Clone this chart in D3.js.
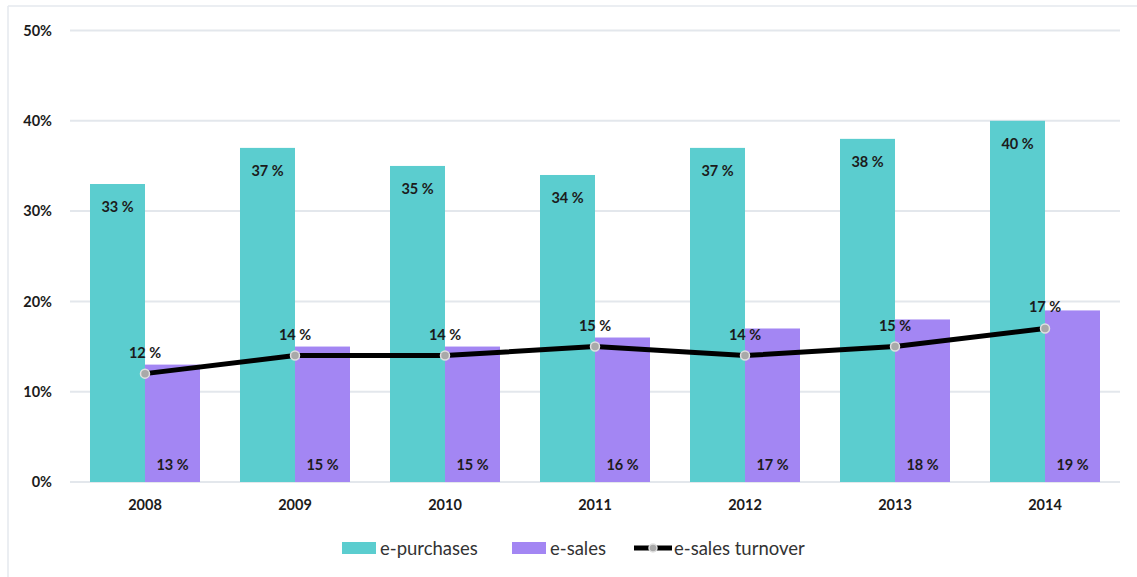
<!DOCTYPE html>
<html>
<head>
<meta charset="utf-8">
<script src="https://cdn.jsdelivr.net/npm/d3@7"></script>
<style>
  html, body { margin: 0; padding: 0; background: #fff; }
  svg { display: block; font-family: Lato, "Open Sans", sans-serif; }
</style>
</head>
<body>
<svg id="chart" width="1137" height="577"></svg>
<script>
const years = ["2008", "2009", "2010", "2011", "2012", "2013", "2014"];
const ePurchases = [33, 37, 35, 34, 37, 38, 40];
const eSales = [13, 15, 15, 16, 17, 18, 19];
const eSalesTurnover = [12, 14, 14, 15, 14, 15, 17];
const yTicks = [0, 10, 20, 30, 40, 50];
const legendLabels = ["e-purchases", "e-sales", "e-sales turnover"];

const W = 1137, H = 577;
const margin = { left: 70, right: 17, top: 30.5, bottom: 95 };
const colTeal = "#5bcdcf", colPurple = "#a386f3", textCol = "#1b1b1b";

const svg = d3.select("#chart");

// outer frame (left + top)
svg.append("line").attr("x1", 8).attr("x2", 8).attr("y1", 6).attr("y2", H).attr("stroke", "#e4e8ee").attr("stroke-width", 1.5);
svg.append("line").attr("x1", 8).attr("x2", W).attr("y1", 6).attr("y2", 6).attr("stroke", "#e4e8ee").attr("stroke-width", 1.5);

const x = d3.scaleBand().domain(years).range([margin.left, W - margin.right]).paddingInner(0.2667).paddingOuter(0.1333);
const y = d3.scaleLinear().domain([0, 50]).range([H - margin.bottom, margin.top]);
const half = x.bandwidth() / 2;

// gridlines
svg.append("g").selectAll("line").data(yTicks).join("line")
  .attr("x1", margin.left).attr("x2", W - margin.right)
  .attr("y1", d => y(d)).attr("y2", d => y(d))
  .attr("stroke", "#e3e7ec").attr("stroke-width", 2);

// y axis labels
const yAxis = d3.axisLeft(y).tickValues(yTicks).tickFormat(d => d + "%").tickSize(0).tickPadding(18);
const yg = svg.append("g").attr("transform", `translate(${margin.left},0)`).call(yAxis);
yg.select(".domain").remove();
yg.selectAll("text").attr("font-size", 14.5).attr("font-weight", "bold").attr("fill", textCol)
  .attr("font-family", "Lato, 'Open Sans', sans-serif");

// x axis labels
const xAxis = d3.axisBottom(x).tickSize(0).tickPadding(18);
const xg = svg.append("g").attr("transform", `translate(0,${y(0)})`).call(xAxis);
xg.select(".domain").remove();
xg.selectAll("text").attr("font-size", 14.5).attr("font-weight", "bold").attr("fill", textCol)
  .attr("font-family", "Lato, 'Open Sans', sans-serif");

// bars
svg.append("g").selectAll("rect").data(years).join("rect")
  .attr("x", d => x(d)).attr("width", half)
  .attr("y", (d, i) => y(ePurchases[i])).attr("height", (d, i) => y(0) - y(ePurchases[i]))
  .attr("fill", colTeal);
svg.append("g").selectAll("rect").data(years).join("rect")
  .attr("x", d => x(d) + half).attr("width", half)
  .attr("y", (d, i) => y(eSales[i])).attr("height", (d, i) => y(0) - y(eSales[i]))
  .attr("fill", colPurple);

// bar labels
svg.append("g").selectAll("text").data(years).join("text")
  .attr("x", d => x(d) + half / 2).attr("y", (d, i) => y(ePurchases[i]) + 28)
  .attr("text-anchor", "middle").attr("font-size", 14.5).attr("font-weight", "bold").attr("fill", textCol)
  .text((d, i) => ePurchases[i] + " %");
svg.append("g").selectAll("text").data(years).join("text")
  .attr("x", d => x(d) + half * 1.5).attr("y", y(0) - 12)
  .attr("text-anchor", "middle").attr("font-size", 14.5).attr("font-weight", "bold").attr("fill", textCol)
  .text((d, i) => eSales[i] + " %");

// line
const line = d3.line().x(d => x(d.year) + half).y(d => y(d.v)).curve(d3.curveLinear);
const pts = years.map((yr, i) => ({ year: yr, v: eSalesTurnover[i] }));
svg.append("path").datum(pts).attr("d", line).attr("fill", "none").attr("stroke", "#000").attr("stroke-width", 5).attr("stroke-linejoin", "round");
svg.append("g").selectAll("circle").data(pts).join("circle")
  .attr("cx", d => x(d.year) + half).attr("cy", d => y(d.v)).attr("r", 4.5)
  .attr("fill", "#a9a9a9").attr("stroke", "#e0e0e0").attr("stroke-width", 1.5);
svg.append("g").selectAll("text").data(pts).join("text")
  .attr("x", d => x(d.year) + half).attr("y", d => y(d.v) - 16)
  .attr("text-anchor", "middle").attr("font-size", 14.5).attr("font-weight", "bold").attr("fill", textCol)
  .text(d => d.v + " %");

// legend
const lg = svg.append("g").attr("font-size", 18.5).attr("fill", "#333");
lg.append("rect").attr("x", 342).attr("y", 542).attr("width", 34).attr("height", 12).attr("fill", colTeal);
lg.append("text").attr("x", 380).attr("y", 555).text(legendLabels[0]);
lg.append("rect").attr("x", 512).attr("y", 542).attr("width", 34).attr("height", 12).attr("fill", colPurple);
lg.append("text").attr("x", 550).attr("y", 555).text(legendLabels[1]);
lg.append("line").attr("x1", 634).attr("x2", 672).attr("y1", 548).attr("y2", 548).attr("stroke", "#000").attr("stroke-width", 5);
lg.append("circle").attr("cx", 653).attr("cy", 548).attr("r", 4).attr("fill", "#a9a9a9").attr("stroke", "#e0e0e0").attr("stroke-width", 1.5);
lg.append("text").attr("x", 674).attr("y", 555).text(legendLabels[2]);
</script>
</body>
</html>
